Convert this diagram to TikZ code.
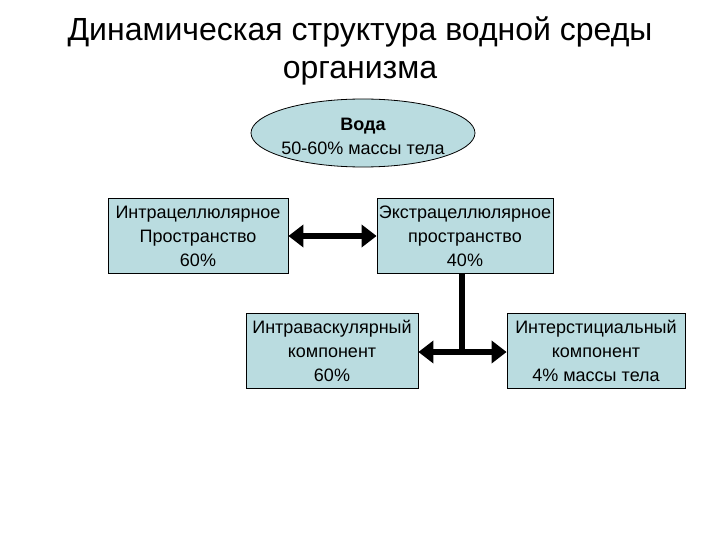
\documentclass[tikz,border=0pt]{standalone}
\usepackage{fontspec}
\setmainfont{Liberation Sans}
\usetikzlibrary{shapes.geometric,arrows.meta}
\definecolor{boxfill}{RGB}{186,220,224}
\tikzset{
  box/.style={draw=black, line width=0.8pt, fill=boxfill, minimum width=#1, minimum height=75pt, inner sep=0pt, align=center, font=\fontsize{18}{24}\selectfont},
  bigarrow/.style={line width=6pt, {Triangle[length=15pt,width=22pt]}-{Triangle[length=15pt,width=22pt]}},
  thickline/.style={line width=6pt}
}
\begin{document}
\begin{tikzpicture}[x=1pt,y=-1pt]
\useasboundingbox (0,0) rectangle (720,540);
\node[align=center, font=\fontsize{32}{38}\selectfont] (title) at (360,51) {Динамическая структура водной среды\\организма};
\node[ellipse, draw=black, line width=0.8pt, fill=boxfill, minimum width=224pt, minimum height=68pt, inner sep=0pt] (water) at (363,133) {};
\node[align=center, font=\fontsize{18}{24}\selectfont] (watertext) at (363,136) {\textbf{Вода}\\50-60\% массы тела};
\node[box=180pt] (intra) at (198,236) {Интрацеллюлярное\\Пространство\\60\%};
\node[box=176pt] (extra) at (465,236) {Экстрацеллюлярное\\пространство\\40\%};
\node[box=172pt] (vasc) at (332,351) {Интраваскулярный\\компонент\\60\%};
\node[box=178pt] (inter) at (596,351) {Интерстициальный\\компонент\\4\% массы тела};
\coordinate (j) at (462,352);
\draw[bigarrow] (intra.east) -- (extra.west);
\draw[thickline] (extra.south -| j) -- (j);
\draw[bigarrow] (vasc.east |- j) -- (inter.west |- j);
\end{tikzpicture}
\end{document}
